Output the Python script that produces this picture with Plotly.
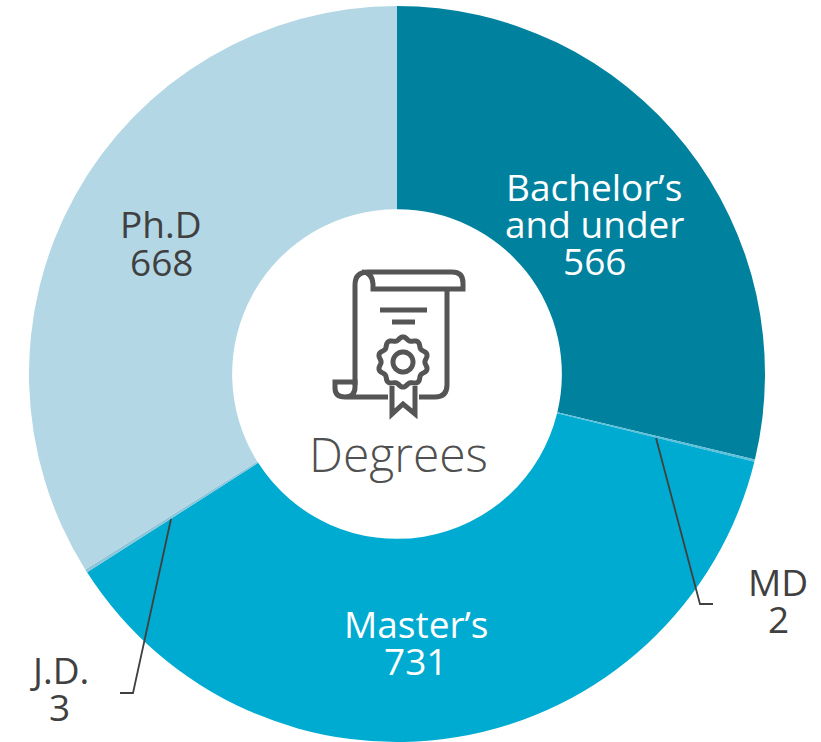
import re
import numpy as np
import plotly.graph_objects as go

W, H = 821, 742

categories = ["Bachelor’s and under", "MD", "Master’s", "J.D.", "Ph.D"]
values = [566, 2, 731, 3, 668]
slice_colors = ["#00829F", "#5CC0DA", "#00ABD1", "#8DC5DB", "#B3D7E5"]
center_title = "Degrees"

TEXT = "#404040"
FONT = "Open Sans"


def px(x):
    return x / W


def py(y):
    return 1 - y / H


def paper_path(d):
    """Convert a pixel-space SVG path into paper coordinates."""
    def conv(m):
        return f"{px(float(m.group(1))):.5f},{py(float(m.group(2))):.5f}"
    return re.sub(r"(-?[\d.]+),(-?[\d.]+)", conv, d)


CX, CY, R = 397, 374, 368

fig = go.Figure(
    go.Pie(
        labels=categories,
        values=values,
        marker=dict(colors=slice_colors, line=dict(width=0)),
        hole=0.448,
        sort=False,
        direction="clockwise",
        rotation=0,
        textinfo="none",
        hoverinfo="label+value",
        showlegend=False,
        domain=dict(
            x=[px(CX - R), px(CX + R)],
            y=[py(CY + R), py(CY - R)],
        ),
    )
)

annotations = []


def label(lines, cx, y0, color, size=37, step=37):
    for i, t in enumerate(lines):
        annotations.append(dict(
            x=px(cx), y=py(y0 + i * step), xref="paper", yref="paper",
            text=t, showarrow=False, xanchor="center", yanchor="middle",
            font=dict(family=FONT, size=size, color=color),
        ))


label(["Bachelor’s", "and under", str(values[0])], 594, 186, "#FFFFFF")
label(["Ph.D", str(values[4])], 161, 224, TEXT)
label(["Master’s", str(values[2])], 416, 623, "#FFFFFF")
label(["MD", str(values[1])], 778, 581, TEXT)
label(["J.D.", str(values[3])], 59, 669, TEXT)

annotations.append(dict(
    x=px(398), y=py(453), xref="paper", yref="paper", text=center_title,
    showarrow=False, xanchor="center", yanchor="middle",
    font=dict(family=FONT, size=48, color="#505050", weight=300),
))

ICON = "#555555"


def icon_shape(d, width=5):
    return dict(type="path", xref="paper", yref="paper", path=paper_path(d),
                line=dict(color=ICON, width=width), fillcolor="rgba(0,0,0,0)",
                layer="above")


def leader(d):
    return dict(type="path", xref="paper", yref="paper", path=paper_path(d),
                line=dict(color="#404040", width=1.8), fillcolor="rgba(0,0,0,0)",
                layer="above")


# rosette outline
t = np.linspace(0, 2 * np.pi, 181)
rad = 23.5 + 1.6 * np.cos(10 * t)
rx, ry = 403 + rad * np.sin(t), 362 - rad * np.cos(t)
ros = "M" + " L".join(f"{a:.2f},{b:.2f}" for a, b in zip(rx, ry)) + " Z"
t2 = np.linspace(0, 2 * np.pi, 61)
ring = "M" + " L".join(f"{403 + 10 * np.sin(a):.2f},{362 - 10 * np.cos(a):.2f}" for a in t2) + " Z"

shapes = [
    icon_shape("M355,385 L355,285 Q355,272 368,272 L452,272 Q463,272 463,283 L463,289 L373,289 L373,284 Q372,272 362,272"),
    icon_shape("M447,289 L447,385 Q447,397 435,397 L419,397"),
    icon_shape("M388,397 L345,397 Q335,397 335,388 L335,382 L355,382 L355,387 Q355,397 345,397"),
    icon_shape("M380,310 L427,310"),
    icon_shape("M392,322 L415,322"),
    icon_shape(ros),
    icon_shape(ring),
    icon_shape("M392,386 L392,414 L403,404 L415,414 L415,386"),
    leader("M656,438 L700,604 L713,604"),
    leader("M171,519 L133,693 L120,693"),
]

fig.update_layout(
    width=W, height=H,
    margin=dict(l=0, r=0, t=0, b=0),
    paper_bgcolor="#FFFFFF",
    plot_bgcolor="#FFFFFF",
    font=dict(family=FONT, color=TEXT),
    annotations=annotations,
    shapes=shapes,
)

fig.write_html("out.html", config=dict(displayModeBar=False, responsive=False),
               post_script="document.body.style.margin='0';")
